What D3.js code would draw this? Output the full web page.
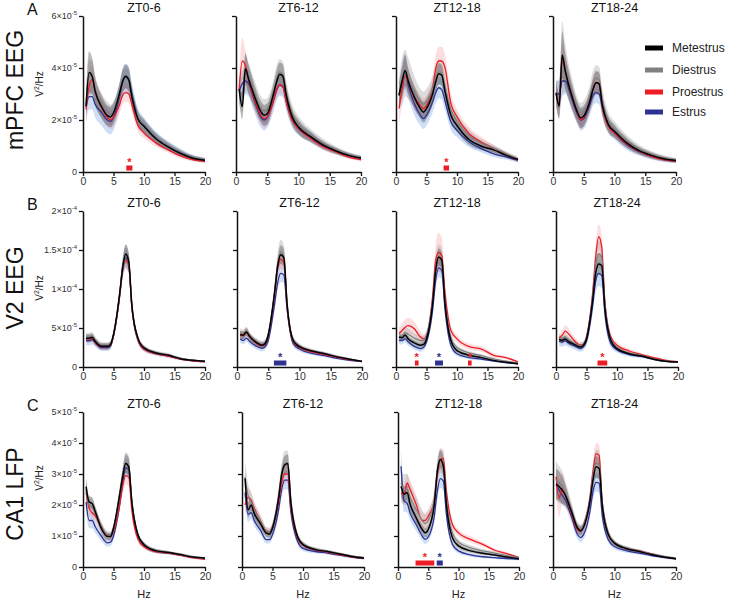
<!DOCTYPE html>
<html><head><meta charset="utf-8">
<script src="https://cdn.jsdelivr.net/npm/d3@7"></script>
<style>body{margin:0;background:#fff}svg text{font-family:"Liberation Sans",Arial,sans-serif}</style>
</head><body><svg id="chart" width="729" height="600"></svg>
<script>
// ---------- DATA (power in units of 1e-5 V^2/Hz) ----------
const freqHz = [0.5,1,1.5,2,3,4,4.5,5,6,6.5,7,7.5,8,9,10,12,14,16,18,20];
const stages = ["Metestrus","Diestrus","Proestrus","Estrus"];
const ztWindows = ["ZT0-6","ZT6-12","ZT12-18","ZT18-24"];
const regionNames = ["mPFC EEG","V2 EEG","CA1 LFP"];
const panelLetters = ["A","B","C"];
const xTicks = [0,5,10,15,20];
const yTicksMPFC = [0,2,4,6];
const yTickLabelsMPFC = [["0",""],["2×10","-5"],["4×10","-5"],["6×10","-5"]];
const yTicksV2 = [0,5,10,15,20];
const yTickLabelsV2 = [["0",""],["5×10","-5"],["1×10","-4"],["1.5×10","-4"],["2×10","-4"]];
const yTicksCA1 = [0,1,2,3,4,5];
const yTickLabelsCA1 = [["0",""],["1×10","-5"],["2×10","-5"],["3×10","-5"],["4×10","-5"],["5×10","-5"]];

// mPFC EEG means, one row per ZT window
const mpfcMetestrus = [
[2.53,3.83,3.68,3.1,2.53,2.17,2.12,2.27,3.04,3.49,3.68,3.55,2.91,2.04,1.76,1.27,0.96,0.71,0.53,0.45],
[3.2,2.52,3.97,3.59,2.88,2.31,2.18,2.24,3.0,3.46,3.76,3.68,3.0,2.12,1.73,1.35,1.03,0.81,0.64,0.54],
[2.95,3.5,3.9,3.5,2.88,2.44,2.3,2.44,3.0,3.46,3.78,3.72,3.14,2.18,1.79,1.24,0.99,0.85,0.65,0.48],
[3.05,2.53,4.5,3.88,2.98,2.28,2.08,2.15,2.73,3.17,3.43,3.39,2.6,1.83,1.57,1.12,0.82,0.64,0.51,0.44]];
const mpfcDiestrus = [
[2.6,3.7,3.7,3.2,2.6,2.3,2.2,2.3,3.0,3.5,3.6,3.5,2.9,2.1,1.8,1.3,1.0,0.75,0.55,0.47],
[3.1,3.0,3.8,3.6,3.0,2.45,2.35,2.4,3.1,3.6,3.85,3.75,3.1,2.25,1.85,1.42,1.1,0.85,0.67,0.55],
[3.0,3.5,3.8,3.6,3.1,2.7,2.6,2.7,3.2,3.6,3.85,3.8,3.3,2.4,1.95,1.4,1.1,0.9,0.7,0.5],
[3.0,2.8,4.4,4.0,3.1,2.4,2.2,2.3,2.9,3.4,3.6,3.55,2.8,1.95,1.65,1.2,0.88,0.68,0.54,0.46]];
const mpfcProestrus = [
[2.4,3.3,3.55,3.1,2.5,2.1,2.0,2.1,2.6,2.95,3.05,3.0,2.6,1.8,1.5,1.12,0.85,0.62,0.48,0.41],
[3.17,4.27,4.1,3.53,2.76,2.18,2.05,2.12,2.76,3.17,3.36,3.3,2.76,1.99,1.67,1.28,0.96,0.77,0.58,0.47],
[2.44,3.2,3.72,3.46,2.88,2.56,2.44,2.56,3.2,3.97,4.27,4.27,4.04,2.63,2.12,1.47,1.15,0.9,0.68,0.45],
[3.0,2.6,4.3,3.9,2.95,2.25,2.0,2.1,2.75,3.2,3.45,3.4,2.55,1.75,1.5,1.08,0.8,0.6,0.48,0.42]];
const mpfcEstrus = [
[2.5,2.9,2.9,2.6,2.3,2.0,1.95,2.1,2.9,3.45,3.62,3.55,3.0,2.1,1.8,1.3,1.0,0.75,0.55,0.45],
[3.1,3.4,3.5,3.4,2.7,2.1,2.0,2.1,2.75,3.15,3.33,3.27,2.75,2.0,1.67,1.32,1.0,0.8,0.63,0.53],
[2.95,3.4,3.85,3.33,2.63,2.18,2.05,2.18,2.69,3.04,3.24,3.17,2.76,1.92,1.6,1.15,0.9,0.7,0.58,0.45],
[3.0,3.0,3.5,3.5,2.85,2.2,2.0,2.05,2.6,2.95,3.05,3.0,2.5,1.8,1.5,1.05,0.78,0.6,0.48,0.42]];
// mPFC EEG SEM
const mpfcMetestrusSem = [
[0.45,0.8,0.7,0.55,0.45,0.4,0.4,0.4,0.4,0.45,0.45,0.45,0.4,0.3,0.25,0.2,0.15,0.12,0.1,0.08],
[0.4,0.5,0.6,0.55,0.45,0.4,0.4,0.4,0.4,0.45,0.45,0.45,0.4,0.3,0.28,0.2,0.15,0.12,0.1,0.08],
[0.5,0.6,0.6,0.5,0.45,0.4,0.4,0.4,0.4,0.4,0.4,0.4,0.4,0.3,0.25,0.2,0.15,0.12,0.1,0.08],
[0.4,0.5,0.9,0.7,0.5,0.4,0.4,0.4,0.4,0.45,0.45,0.45,0.4,0.3,0.25,0.2,0.15,0.12,0.1,0.08]];
const mpfcDiestrusSem = [
[0.4,0.6,0.6,0.5,0.45,0.4,0.4,0.4,0.4,0.4,0.4,0.4,0.35,0.3,0.25,0.2,0.15,0.12,0.1,0.08],
[0.5,0.7,0.7,0.6,0.5,0.45,0.45,0.45,0.45,0.5,0.5,0.5,0.45,0.35,0.3,0.22,0.17,0.13,0.1,0.08],
[0.6,0.9,0.9,0.8,0.6,0.5,0.5,0.5,0.5,0.5,0.5,0.5,0.45,0.35,0.3,0.22,0.17,0.13,0.1,0.08],
[0.5,0.7,1.4,0.9,0.6,0.45,0.45,0.45,0.45,0.5,0.5,0.5,0.45,0.35,0.3,0.22,0.17,0.13,0.1,0.08]];
const mpfcProestrusSem = [
[0.5,0.5,0.5,0.45,0.4,0.35,0.35,0.35,0.35,0.35,0.35,0.35,0.3,0.25,0.2,0.15,0.12,0.1,0.08,0.06],
[0.5,0.9,0.6,0.5,0.4,0.35,0.35,0.35,0.35,0.35,0.35,0.35,0.3,0.25,0.2,0.15,0.12,0.1,0.08,0.06],
[0.6,0.6,0.5,0.5,0.45,0.4,0.4,0.4,0.45,0.5,0.55,0.55,0.5,0.4,0.3,0.25,0.2,0.15,0.1,0.08],
[0.5,0.5,0.7,0.6,0.45,0.35,0.35,0.35,0.35,0.4,0.4,0.4,0.35,0.25,0.2,0.15,0.12,0.1,0.08,0.06]];
const mpfcEstrusSem = [
[0.6,0.5,0.5,0.5,0.5,0.5,0.5,0.5,0.5,0.55,0.55,0.5,0.45,0.35,0.3,0.25,0.18,0.14,0.1,0.08],
[0.5,0.5,0.5,0.5,0.45,0.4,0.4,0.4,0.4,0.4,0.4,0.4,0.35,0.3,0.25,0.2,0.15,0.12,0.1,0.08],
[0.5,0.6,0.7,0.5,0.45,0.4,0.4,0.4,0.4,0.4,0.4,0.4,0.35,0.3,0.25,0.2,0.15,0.12,0.1,0.08],
[0.5,0.6,0.6,0.5,0.45,0.4,0.4,0.4,0.4,0.4,0.4,0.4,0.35,0.3,0.25,0.2,0.15,0.12,0.1,0.08]];

// V2 EEG means
const v2Metestrus = [
[3.7,3.7,3.8,3.3,2.65,2.65,2.86,4.15,9.3,12.7,14.5,13.5,8.0,3.7,2.45,1.8,1.5,1.07,0.85,0.73],
[4.1,4.1,4.5,3.95,3.2,2.8,3.0,4.1,9.4,12.9,14.4,14.0,8.2,3.4,2.6,2.05,1.7,1.3,1.0,0.73],
[3.85,3.75,4.1,3.6,3.1,2.8,2.9,3.6,8.1,12.4,14.1,13.7,8.5,3.4,2.1,1.5,1.2,0.85,0.6,0.43],
[3.55,3.4,3.6,3.3,2.9,2.55,2.8,3.6,8.5,12.0,13.2,13.0,7.7,3.4,2.35,1.7,1.4,1.0,0.73,0.64]];
const v2Diestrus = [
[3.8,3.8,3.9,3.4,2.8,2.7,2.9,4.2,9.2,12.6,14.3,13.4,7.9,3.7,2.5,1.85,1.55,1.1,0.87,0.74],
[4.4,4.2,4.6,4.0,3.3,2.9,3.1,4.2,9.6,13.2,14.7,14.2,8.4,3.5,2.7,2.1,1.75,1.35,1.02,0.75],
[3.9,4.0,4.4,4.2,3.7,3.4,3.4,4.0,8.5,12.5,14.0,13.6,8.8,3.8,2.5,1.8,1.45,1.05,0.75,0.5],
[3.7,3.6,3.8,3.5,3.0,2.7,2.9,3.8,9.0,13.0,14.5,14.0,8.3,3.6,2.5,1.8,1.5,1.05,0.77,0.66]];
const v2Proestrus = [
[3.6,3.6,3.7,3.2,2.6,2.6,2.8,4.0,9.0,12.4,13.7,13.2,7.8,3.5,2.3,1.7,1.4,1.0,0.8,0.68],
[4.2,4.0,4.4,3.9,3.1,2.7,2.9,4.0,9.2,12.6,13.8,13.4,8.0,3.3,2.5,1.95,1.6,1.25,0.95,0.7],
[4.3,4.7,5.1,5.3,4.9,3.85,3.6,4.05,9.0,13.7,14.7,14.3,9.8,4.7,3.6,2.6,2.3,1.5,1.2,0.65],
[3.75,4.05,4.6,4.3,3.4,2.8,2.9,3.85,9.4,14.1,16.7,15.4,8.5,3.85,2.8,2.05,1.6,1.2,0.85,0.68]];
const v2Estrus = [
[3.4,3.4,3.5,3.1,2.5,2.5,2.7,4.0,9.2,12.8,14.0,13.2,7.9,3.5,2.3,1.7,1.4,1.0,0.8,0.7],
[3.6,3.4,3.7,3.3,2.7,2.4,2.6,3.4,8.0,10.8,12.0,11.8,7.5,3.0,2.3,1.75,1.45,1.1,0.85,0.7],
[3.4,3.4,3.6,3.2,2.65,2.35,2.5,3.2,7.3,11.1,12.7,12.4,7.7,2.8,1.7,1.2,1.0,0.75,0.55,0.4],
[3.3,3.2,3.35,3.1,2.7,2.4,2.6,3.3,7.8,11.0,12.0,11.7,7.0,3.0,2.2,1.6,1.35,1.0,0.72,0.62]];
// V2 EEG SEM
const v2MetestrusSem = [
[0.5,0.5,0.5,0.45,0.4,0.4,0.4,0.45,0.7,1.0,1.2,1.1,0.7,0.4,0.3,0.2,0.2,0.15,0.12,0.1],
[0.5,0.5,0.5,0.45,0.4,0.4,0.4,0.45,0.7,1.0,1.2,1.1,0.7,0.4,0.3,0.2,0.2,0.15,0.12,0.1],
[0.4,0.4,0.4,0.4,0.35,0.35,0.35,0.4,0.7,1.0,1.1,1.0,0.7,0.35,0.25,0.2,0.15,0.12,0.1,0.08],
[0.4,0.4,0.4,0.4,0.35,0.35,0.35,0.4,0.8,1.2,1.4,1.3,0.8,0.4,0.3,0.2,0.15,0.12,0.1,0.08]];
const v2DiestrusSem = [
[0.6,0.6,0.6,0.5,0.45,0.45,0.45,0.5,0.9,1.3,1.4,1.3,0.8,0.45,0.3,0.25,0.2,0.15,0.12,0.1],
[0.6,0.6,0.6,0.5,0.45,0.45,0.45,0.5,1.0,1.4,1.6,1.5,0.9,0.45,0.35,0.25,0.2,0.15,0.12,0.1],
[0.6,0.6,0.7,0.7,0.6,0.6,0.6,0.6,1.0,1.5,1.7,1.6,1.0,0.5,0.35,0.25,0.2,0.15,0.12,0.1],
[0.5,0.5,0.5,0.45,0.4,0.4,0.4,0.5,1.0,1.5,1.7,1.6,0.9,0.45,0.3,0.25,0.2,0.15,0.12,0.1]];
const v2ProestrusSem = [
[0.5,0.5,0.5,0.45,0.4,0.4,0.4,0.45,0.8,1.1,1.2,1.1,0.7,0.4,0.3,0.2,0.2,0.15,0.12,0.1],
[0.5,0.5,0.5,0.45,0.4,0.4,0.4,0.45,0.8,1.1,1.2,1.1,0.7,0.4,0.3,0.2,0.2,0.15,0.12,0.1],
[0.8,0.9,1.0,1.0,0.9,0.7,0.6,0.6,1.2,2.0,2.5,2.3,1.4,0.7,0.5,0.4,0.35,0.3,0.2,0.12],
[0.5,0.6,0.8,0.7,0.5,0.4,0.4,0.5,1.0,1.5,1.6,1.5,1.0,0.5,0.4,0.3,0.2,0.15,0.12,0.1]];
const v2EstrusSem = [
[0.6,0.6,0.6,0.5,0.45,0.45,0.45,0.5,0.9,1.2,1.3,1.2,0.8,0.45,0.3,0.25,0.2,0.15,0.12,0.1],
[0.5,0.5,0.5,0.45,0.4,0.4,0.4,0.45,0.8,1.0,1.1,1.0,0.7,0.4,0.3,0.2,0.2,0.15,0.12,0.1],
[0.5,0.5,0.5,0.45,0.4,0.4,0.4,0.45,0.8,1.1,1.2,1.1,0.8,0.4,0.3,0.2,0.15,0.12,0.1,0.08],
[0.6,0.6,0.6,0.5,0.45,0.45,0.45,0.5,1.0,1.4,1.6,1.5,1.0,0.5,0.35,0.25,0.2,0.15,0.12,0.1]];

// CA1 LFP means
const ca1Metestrus = [
[2.59,2.1,2.05,1.79,1.25,0.98,0.98,1.25,2.32,2.91,3.34,3.23,2.1,1.04,0.72,0.52,0.47,0.4,0.32,0.29],
[2.86,1.84,2.0,1.73,1.41,1.09,1.06,1.25,2.22,2.97,3.29,3.34,2.1,1.04,0.72,0.56,0.5,0.42,0.34,0.29],
[2.6,2.35,2.4,2.03,1.59,1.21,1.1,1.21,2.02,3.09,3.47,3.25,2.02,0.94,0.68,0.52,0.44,0.39,0.32,0.27],
[2.67,2.59,2.48,2.32,1.79,1.25,1.17,1.3,2.11,2.8,3.23,3.18,2.0,1.04,0.77,0.59,0.5,0.4,0.32,0.27]];
const ca1Diestrus = [
[2.5,2.0,1.95,1.75,1.3,1.05,1.03,1.25,2.3,2.95,3.35,3.25,2.15,1.05,0.73,0.53,0.47,0.4,0.32,0.28],
[2.9,2.3,2.1,1.85,1.5,1.15,1.12,1.3,2.3,3.0,3.35,3.35,2.2,1.08,0.75,0.58,0.5,0.43,0.35,0.3],
[2.7,2.5,2.5,2.25,1.85,1.5,1.4,1.5,2.2,3.1,3.45,3.3,2.2,1.1,0.8,0.62,0.52,0.45,0.37,0.3],
[2.8,2.7,2.6,2.4,1.85,1.3,1.22,1.35,2.2,2.95,3.35,3.3,2.1,1.1,0.8,0.61,0.52,0.42,0.34,0.28]];
const ca1Proestrus = [
[2.4,1.9,1.75,1.65,1.3,1.0,0.98,1.15,2.0,2.6,2.95,2.9,1.85,0.9,0.65,0.5,0.45,0.38,0.3,0.25],
[2.0,2.25,2.15,1.9,1.5,1.15,1.12,1.3,2.1,2.7,3.0,3.0,1.95,1.0,0.7,0.55,0.48,0.4,0.33,0.28],
[2.39,2.34,2.71,2.5,2.02,1.5,1.5,1.64,2.12,2.93,3.47,3.5,2.45,1.37,1.1,0.89,0.73,0.54,0.43,0.3],
[2.91,2.22,2.54,2.32,1.73,1.2,1.15,1.36,2.22,3.07,3.66,3.6,2.11,1.09,0.77,0.59,0.52,0.42,0.33,0.27]];
const ca1Estrus = [
[2.1,1.5,1.5,1.3,1.0,0.78,0.8,1.0,2.0,2.7,3.2,3.15,2.1,1.0,0.7,0.5,0.45,0.38,0.31,0.27],
[2.4,1.7,1.75,1.5,1.2,0.88,0.88,1.05,1.85,2.5,2.8,2.8,1.8,0.88,0.6,0.5,0.45,0.38,0.32,0.27],
[3.25,2.13,2.06,1.74,1.37,1.0,0.89,0.97,1.64,2.45,2.85,2.77,1.7,0.73,0.52,0.39,0.33,0.3,0.27,0.25],
[2.64,2.48,2.32,2.16,1.63,1.04,0.95,1.06,1.79,2.43,2.73,2.7,1.68,0.88,0.66,0.52,0.45,0.37,0.31,0.26]];
// CA1 LFP SEM
const ca1MetestrusSem = [
[0.3,0.2,0.2,0.18,0.15,0.12,0.12,0.13,0.2,0.25,0.3,0.3,0.2,0.1,0.08,0.06,0.05,0.04,0.04,0.03],
[0.3,0.25,0.2,0.18,0.15,0.12,0.12,0.13,0.2,0.25,0.3,0.3,0.2,0.1,0.08,0.06,0.05,0.04,0.04,0.03],
[0.3,0.25,0.25,0.2,0.18,0.15,0.15,0.15,0.2,0.25,0.3,0.3,0.2,0.1,0.08,0.06,0.05,0.04,0.04,0.03],
[0.5,0.5,0.45,0.35,0.2,0.15,0.15,0.15,0.2,0.3,0.35,0.35,0.25,0.12,0.08,0.06,0.05,0.04,0.04,0.03]];
const ca1DiestrusSem = [
[0.35,0.25,0.25,0.2,0.15,0.12,0.12,0.13,0.25,0.3,0.35,0.35,0.25,0.12,0.08,0.06,0.05,0.04,0.04,0.03],
[0.5,0.4,0.3,0.25,0.2,0.15,0.15,0.15,0.25,0.35,0.4,0.4,0.25,0.12,0.08,0.06,0.05,0.04,0.04,0.03],
[0.5,0.5,0.5,0.45,0.4,0.35,0.3,0.3,0.3,0.35,0.4,0.4,0.3,0.15,0.1,0.08,0.06,0.05,0.04,0.03],
[0.6,0.55,0.5,0.4,0.25,0.15,0.15,0.15,0.25,0.35,0.45,0.45,0.3,0.12,0.08,0.06,0.05,0.04,0.04,0.03]];
const ca1ProestrusSem = [
[0.3,0.2,0.2,0.18,0.15,0.12,0.12,0.13,0.2,0.25,0.3,0.3,0.2,0.1,0.08,0.06,0.05,0.04,0.04,0.03],
[0.3,0.3,0.25,0.2,0.15,0.12,0.12,0.13,0.2,0.25,0.3,0.3,0.2,0.1,0.08,0.06,0.05,0.04,0.04,0.03],
[0.3,0.3,0.3,0.3,0.3,0.25,0.25,0.25,0.25,0.3,0.3,0.3,0.25,0.15,0.12,0.1,0.08,0.06,0.05,0.04],
[0.6,0.6,0.5,0.35,0.2,0.15,0.15,0.15,0.2,0.3,0.35,0.35,0.25,0.12,0.08,0.06,0.05,0.04,0.04,0.03]];
const ca1EstrusSem = [
[0.3,0.25,0.25,0.2,0.15,0.12,0.12,0.13,0.2,0.25,0.3,0.3,0.2,0.1,0.08,0.06,0.05,0.04,0.04,0.03],
[0.3,0.25,0.2,0.18,0.15,0.12,0.12,0.13,0.2,0.25,0.3,0.3,0.2,0.1,0.08,0.06,0.05,0.04,0.04,0.03],
[0.6,0.35,0.3,0.25,0.2,0.15,0.15,0.15,0.2,0.25,0.3,0.3,0.2,0.1,0.08,0.06,0.05,0.04,0.04,0.03],
[0.3,0.3,0.3,0.25,0.2,0.15,0.15,0.15,0.2,0.25,0.3,0.3,0.2,0.1,0.08,0.06,0.05,0.04,0.04,0.03]];

// significance bars (Hz ranges)
const sigRow   = [0,0,1,1,1,1,1,2,2];
const sigCol   = [0,2,1,2,2,2,3,2,2];
const sigStage = ["Proestrus","Proestrus","Estrus","Proestrus","Estrus","Proestrus","Proestrus","Proestrus","Estrus"];
const sigFrom  = [7.1,7.8,5.9,3.1,6.4,11.8,6.8,2.9,6.4];
const sigTo    = [8.1,8.7,7.9,3.7,7.7,12.4,8.4,6.0,7.4];

// ---------- STRUCTURE ----------
const means = [
  [mpfcMetestrus, mpfcDiestrus, mpfcProestrus, mpfcEstrus],
  [v2Metestrus, v2Diestrus, v2Proestrus, v2Estrus],
  [ca1Metestrus, ca1Diestrus, ca1Proestrus, ca1Estrus]];
const sems = [
  [mpfcMetestrusSem, mpfcDiestrusSem, mpfcProestrusSem, mpfcEstrusSem],
  [v2MetestrusSem, v2DiestrusSem, v2ProestrusSem, v2EstrusSem],
  [ca1MetestrusSem, ca1DiestrusSem, ca1ProestrusSem, ca1EstrusSem]];
const yTicks = [yTicksMPFC, yTicksV2, yTicksCA1];
const yTickLabels = [yTickLabelsMPFC, yTickLabelsV2, yTickLabelsCA1];

// ---------- LAYOUT / STYLE ----------
const rowY = [[16,172],[211,367],[412,567]];
const colX = [
  [[83,205],[236,361],[396,518],[553,676]],
  [[83,205],[237,362],[396,518],[556,678]],
  [[83,205],[242,364],[398,519],[553,676]]];
const lineColor = {Metestrus:"#000000", Diestrus:"#808080", Proestrus:"#ee1c25", Estrus:"#2e3192"};
const bandColor = {Metestrus:"rgba(50,50,50,0.33)", Diestrus:"rgba(150,150,150,0.32)", Proestrus:"rgba(240,90,105,0.2)", Estrus:"rgba(80,135,220,0.28)"};
const bandOrder = ["Estrus","Proestrus","Diestrus","Metestrus"];
const lineOrder = ["Estrus","Proestrus","Diestrus","Metestrus"];

const svg = d3.select("#chart");

for (let r = 0; r < 3; r++) {
  const y = d3.scaleLinear().domain([0, d3.max(yTicks[r])]).range([rowY[r][1], rowY[r][0]]);
  for (let c = 0; c < 4; c++) {
    const x = d3.scaleLinear().domain([0,20]).range(colX[r][c]);
    const g = svg.append("g");
    bandOrder.forEach(st => {
      const si = stages.indexOf(st);
      const m = means[r][si][c], s = sems[r][si][c];
      const pts = freqHz.map((f,i) => ({f, lo: m[i]-s[i], hi: m[i]+s[i]}));
      g.append("path").datum(pts)
        .attr("fill", bandColor[st])
        .attr("d", d3.area().curve(d3.curveMonotoneX).x(d=>x(d.f)).y0(d=>y(Math.max(0,d.lo))).y1(d=>y(d.hi)));
    });
    lineOrder.forEach(st => {
      const si = stages.indexOf(st);
      const m = means[r][si][c];
      g.append("path").datum(freqHz.map((f,i)=>({f, v:m[i]})))
        .attr("fill","none").attr("stroke", lineColor[st])
        .attr("stroke-width", st==="Metestrus"?1.5:1.3)
        .attr("stroke-linejoin","round")
        .attr("d", d3.line().curve(d3.curveMonotoneX).x(d=>x(d.f)).y(d=>y(d.v)));
    });
    const ya = g.append("g").attr("transform",`translate(${colX[r][c][0]},0)`)
      .call(d3.axisLeft(y).tickValues(yTicks[r]).tickSize(4).tickSizeOuter(0).tickFormat(""));
    const xa = g.append("g").attr("transform",`translate(0,${rowY[r][1]})`)
      .call(d3.axisBottom(x).tickValues(xTicks).tickSize(4).tickSizeOuter(0).tickPadding(2));
    [ya, xa].forEach(a => { a.select(".domain").attr("stroke","#111").attr("stroke-width",1.5);
      a.selectAll(".tick line").attr("stroke","#111").attr("stroke-width",1.3); });
    xa.selectAll(".tick text").attr("font-size",10.5).attr("fill","#333").attr("font-family","Liberation Sans, Arial, sans-serif");
    if (c === 0) {
      ya.selectAll(".tick").each(function(d,i){
        const lab = yTickLabels[r][i];
        const t = d3.select(this).append("text").attr("x",-6).attr("dy","0.32em")
          .attr("text-anchor","end").attr("font-size",9).attr("fill","#333");
        t.append("tspan").text(lab[0]);
        if (lab[1]) t.append("tspan").attr("font-size",6).attr("dy","-0.75em").text(lab[1]);
      });
    }
    svg.append("text").attr("x",(colX[r][c][0]+colX[r][c][1])/2).attr("y",rowY[r][0]-4)
      .attr("text-anchor","middle").attr("font-size",12.5).attr("fill","#111").text(ztWindows[c]);
    if (r === 2) {
      svg.append("text").attr("x",(colX[r][c][0]+colX[r][c][1])/2).attr("y",598)
        .attr("text-anchor","middle").attr("font-size",11).attr("fill","#222").text("Hz");
    }
    sigRow.forEach((sr,k) => {
      if (sr!==r || sigCol[k]!==c) return;
      const col = lineColor[sigStage[k]];
      const y0 = rowY[r][1];
      g.append("rect").attr("x",x(sigFrom[k])).attr("width",x(sigTo[k])-x(sigFrom[k]))
        .attr("y",y0-6.5).attr("height",5).attr("fill",col);
      g.append("text").attr("x",x((sigFrom[k]+sigTo[k])/2)).attr("y",y0-6)
        .attr("text-anchor","middle").attr("font-size",11).attr("font-weight","bold").attr("fill",col).text("*");
    });
  }
  const rcy = [90,288,494][r];
  svg.append("text").attr("transform",`translate(23,${rcy}) rotate(-90)`)
    .attr("text-anchor","middle").attr("font-size",23).attr("fill","#111").text(regionNames[r]);
  svg.append("text").attr("x",27).attr("y",rowY[r][0]-1).attr("font-size",16).attr("fill","#111").text(panelLetters[r]);
  const yl = svg.append("text").attr("transform",`translate(43,${[84,288,478][r]}) rotate(-90)`)
    .attr("text-anchor","middle").attr("font-size",10).attr("fill","#222");
  yl.append("tspan").text("V");
  yl.append("tspan").attr("font-size",7).attr("dy","-0.6em").text("2");
  yl.append("tspan").attr("dy","0.42em").text("/Hz");
}

const leg = svg.append("g");
stages.forEach((st,i) => {
  const ly = [48,70,92,112][i];
  leg.append("rect").attr("x",645).attr("y",ly-2.5).attr("width",18).attr("height",5).attr("fill",lineColor[st]);
  leg.append("text").attr("x",672).attr("y",ly).attr("dy","0.35em").attr("font-size",12).attr("fill","#222").text(st);
});
</script></body></html>
